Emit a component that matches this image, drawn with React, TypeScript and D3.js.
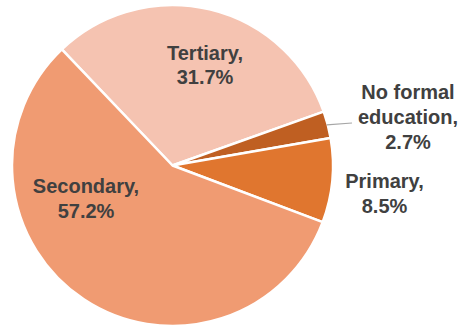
import React from "react";
import * as d3 from "d3";

const categories = ["Tertiary", "No formal education", "Primary", "Secondary"];
const values = [31.7, 2.7, 8.5, 57.2];
const labelLines = [
  ["Tertiary,", "31.7%"],
  ["No formal", "education,", "2.7%"],
  ["Primary,", "8.5%"],
  ["Secondary,", "57.2%"],
];
const colors = ["#F5C3B1", "#BF5F22", "#E0762F", "#F09B72"];

const W = 463;
const H = 330;
const cx = 172.5;
const cy = 165.5;
const R = 160.5;
const startDeg = -43.6;

// label anchor centres (x, first-line baseline y)
const labelPos: [number, number][] = [
  [205, 59.5],
  [408, 99],
  [384.5, 188],
  [86, 193],
];

export default function App() {
  const pie = d3
    .pie<number>()
    .sort(null)
    .value((d) => d)
    .startAngle((startDeg * Math.PI) / 180)
    .endAngle(((startDeg + 360) * Math.PI) / 180);
  const arcs = pie(values);
  const arcGen = d3.arc<d3.PieArcDatum<number>>().innerRadius(0).outerRadius(R);

  // leader line for "No formal education"
  const nf = arcs[1];
  const mid = (nf.startAngle + nf.endAngle) / 2;
  const lx0 = cx + (R - 1) * Math.sin(mid);
  const ly0 = cy - (R - 1) * Math.cos(mid);

  return (
    <svg
      width={W}
      height={H}
      style={{ position: "absolute", left: 0, top: 0 }}
      fontFamily="'Liberation Sans', Arial, sans-serif"
    >
      <g transform={`translate(${cx},${cy})`}>
        {arcs.map((a, i) => (
          <path
            key={categories[i]}
            d={arcGen(a) || ""}
            fill={colors[i]}
            stroke="#FFFFFF"
            strokeWidth={2.5}
            strokeLinejoin="round"
          />
        ))}
      </g>
      <polyline
        points={`${lx0},${ly0} ${352},${123}`}
        fill="none"
        stroke="#A6A6A6"
        strokeWidth={1.2}
      />
      {labelLines.map((lines, i) => (
        <text
          key={categories[i]}
          x={labelPos[i][0]}
          y={labelPos[i][1]}
          textAnchor="middle"
          fontSize={20}
          fontWeight="bold"
          fill="#404040"
        >
          {lines.map((t, j) => (
            <tspan key={j} x={labelPos[i][0]} dy={j === 0 ? 0 : 24.8}>
              {t}
            </tspan>
          ))}
        </text>
      ))}
    </svg>
  );
}
